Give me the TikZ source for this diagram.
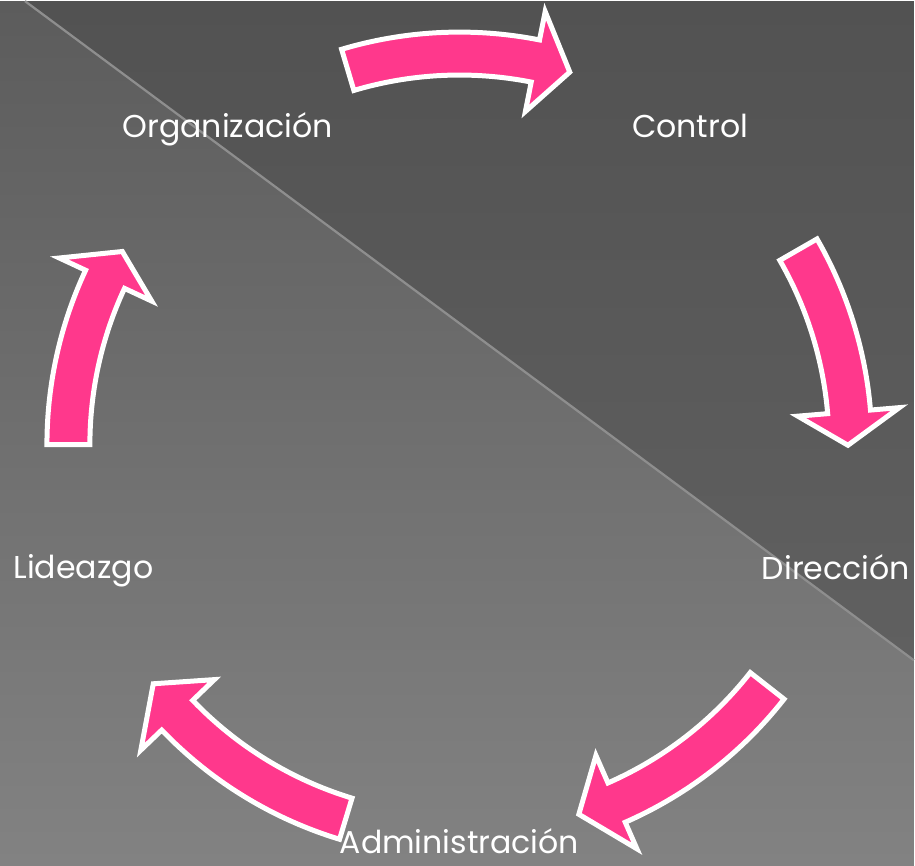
\documentclass[tikz,border=0pt]{standalone}
\usepackage{fontspec}
\setmainfont{Poppins}
\usepackage{xcolor}
\definecolor{arrowpink}{HTML}{FF388C}
\definecolor{bgtop}{HTML}{5C5C5C}
\definecolor{bgbottom}{HTML}{828282}
\definecolor{darktop}{HTML}{525252}
\definecolor{darkbottom}{HTML}{606060}
\definecolor{seamgray}{HTML}{8E8E8E}
\usepackage{tikz}

\begin{document}
\begin{tikzpicture}[x=0.02cm,y=0.02cm,
    cyclearrow/.style={fill=arrowpink,draw=white,line width=0.1cm},
    cyclelabel/.style={text=white,anchor=base,inner sep=0pt,font=\fontsize{18}{20}\selectfont}]
        \shade[top color=bgtop,bottom color=bgbottom] (0,0) rectangle (915,865);
        \shade[top color=darktop,bottom color=darkbottom] (25,865) -- (915,865) -- (915,205) -- cycle;
        \draw[seamgray,line width=0.045cm] (25,865) -- (915,205);
        \coordinate (c) at (460,421);
        \begin{scope}[shift={(c)}]
        \draw[cyclearrow] (106.6:370) arc[start angle=106.6,end angle=78.8,radius=370] -- (78.8:340) -- (73.5:389) -- (78.8:442) -- (78.8:413) arc[start angle=78.8,end angle=106.6,radius=413] -- cycle;
        \draw[cyclearrow] (29.9:370) arc[start angle=29.9,end angle=4.8,radius=370] -- (4.8:340) -- (-0.1:389) -- (4.8:442) -- (4.8:413) arc[start angle=4.8,end angle=29.9,radius=413] -- cycle;
        \draw[cyclearrow] (-38.1:370) arc[start angle=-38.1,end angle=-66.3,radius=370] -- (-66.3:340) -- (-72.1:389) -- (-66.3:442) -- (-66.3:413) arc[start angle=-66.3,end angle=-38.1,radius=413] -- cycle;
        \draw[cyclearrow] (-106.9:370) arc[start angle=-106.9,end angle=-136.2,radius=370] -- (-136.2:340) -- (-142:389) -- (-136.2:442) -- (-136.2:413) arc[start angle=-136.2,end angle=-106.9,radius=413] -- cycle;
        \draw[cyclearrow] (180:370) arc[start angle=180,end angle=155,radius=370] -- (155:340) -- (150.2:389) -- (155:442) -- (155:413) arc[start angle=155,end angle=180,radius=413] -- cycle;
        \end{scope}
        \node[cyclelabel] (org) at (228,728) {Organización};
        \node[cyclelabel] (ctrl) at (691,728) {Control};
        \node[cyclelabel] (dir) at (837,286) {Dirección};
        \node[cyclelabel] (adm) at (460,12) {Administración};
        \node[cyclelabel] (lid) at (83.5,287) {Lideazgo};
\end{tikzpicture}
\end{document}
